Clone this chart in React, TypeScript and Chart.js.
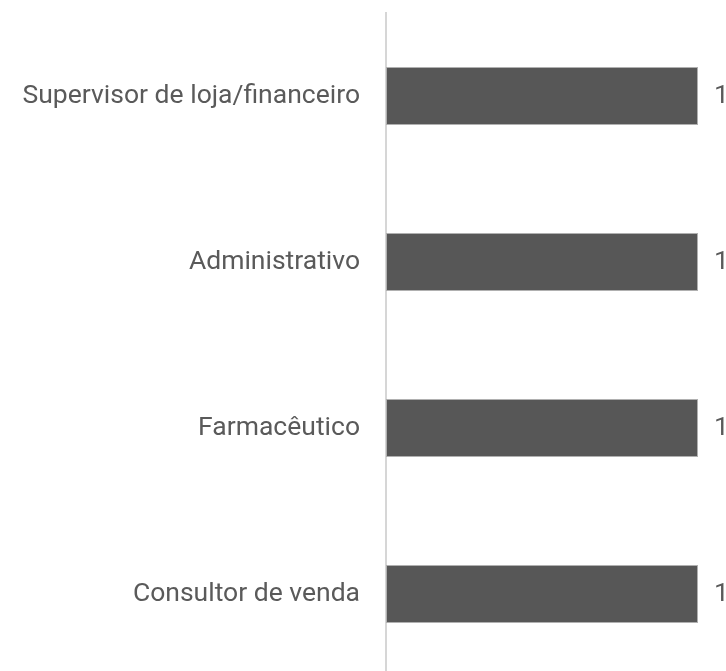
import React, { useEffect, useRef } from "react";
import { Chart, registerables } from "chart.js";

Chart.register(...registerables);

const categories = [
  "Supervisor de loja/financeiro",
  "Administrativo",
  "Farmacêutico",
  "Consultor de venda",
];
const values = [1, 1, 1, 1];
const valueLabels = ["1", "1", "1", "1"];

const FONT_SIZE = 26.5;
const TEXT_COLOR = "#5a5a5a";

const valueLabelPlugin = {
  id: "valueLabels",
  afterDatasetsDraw(chart: any) {
    const ctx = chart.ctx;
    const meta = chart.getDatasetMeta(0);
    ctx.save();
    ctx.font = `${FONT_SIZE}px Roboto`;
    ctx.fillStyle = TEXT_COLOR;
    ctx.textAlign = "left";
    ctx.textBaseline = "middle";
    meta.data.forEach((bar: any, i: number) => {
      ctx.fillText(valueLabels[i], bar.x + 16, bar.y);
    });
    ctx.restore();
  },
};

export default function App() {
  const ref = useRef<HTMLCanvasElement | null>(null);
  useEffect(() => {
    if (!ref.current) return;
    const chart = new Chart(ref.current, {
      type: "bar",
      data: {
        labels: categories,
        datasets: [
          {
            data: values,
            backgroundColor: "#575757",
            borderColor: "#b0b0b0",
            borderWidth: 1,
            borderSkipped: false,
            barPercentage: 0.35,
            categoryPercentage: 1,
          },
        ],
      },
      options: {
        indexAxis: "y",
        animation: false,
        responsive: false,
        layout: { padding: { top: 13, right: 28, bottom: 0, left: 0 } },
        plugins: { legend: { display: false }, tooltip: { enabled: false } },
        scales: {
          x: { display: false, min: 0, max: 1 },
          y: {
            grid: { display: false, drawTicks: false },
            border: { display: true, color: "#d6d6d6", width: 2 },
            ticks: {
              font: { family: "Roboto", size: FONT_SIZE },
              color: TEXT_COLOR,
              padding: 26,
            },
            afterFit: (scale: any) => {
              scale.width = 386;
              scale.paddingTop = 0;
              scale.paddingBottom = 0;
            },
          },
        },
      },
      plugins: [valueLabelPlugin],
    });
    return () => chart.destroy();
  }, []);
  return (
    <div
      style={{
        position: "fixed",
        left: 0,
        top: 0,
        width: 726,
        height: 671,
        overflow: "hidden",
        background: "#fff",
      }}
    >
      <canvas ref={ref} width={726} height={677} style={{ display: "block" }} />
    </div>
  );
}
